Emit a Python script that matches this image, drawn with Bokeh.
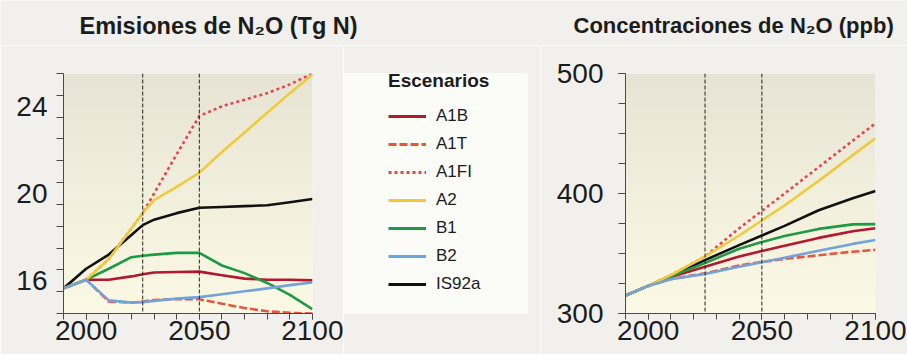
import numpy as np
from bokeh.plotting import figure
from bokeh.layouts import row, column
from bokeh.models import (FixedTicker, Span, Legend, LegendItem, Range1d, LinearAxis,
                          Label)
from bokeh.embed import file_html
from bokeh.resources import INLINE

# ---------------- data ----------------
scenarios = ["A1B", "A1T", "A1FI", "A2", "B1", "B2", "IS92a"]

em_years = [1990, 2000, 2010, 2020, 2025, 2030, 2040, 2050, 2060, 2070, 2080, 2090, 2100]
em_A1B   = [16.15, 16.55, 16.55, 16.70, 16.80, 16.88, 16.90, 16.92, 16.75, 16.60, 16.55, 16.55, 16.52]
em_A1T   = [16.15, 16.55, 15.55, 15.50, 15.55, 15.62, 15.66, 15.65, 15.45, 15.25, 15.10, 15.03, 15.00]
em_A1FI  = [16.15, 16.55, 17.50, 18.90, 19.60, 20.50, 22.30, 24.05, 24.50, 24.80, 25.10, 25.50, 26.00]
em_A2    = [16.15, 16.55, 17.50, 18.90, 19.60, 20.20, 20.80, 21.45, 22.40, 23.30, 24.20, 25.10, 25.95]
em_B1    = [16.15, 16.55, 17.05, 17.58, 17.65, 17.70, 17.78, 17.78, 17.20, 16.85, 16.40, 15.85, 15.20]
em_B2    = [16.15, 16.55, 15.60, 15.50, 15.52, 15.58, 15.68, 15.75, 15.88, 16.02, 16.15, 16.30, 16.42]
em_IS92a = [16.15, 17.05, 17.70, 18.60, 19.05, 19.30, 19.60, 19.85, 19.88, 19.92, 19.96, 20.10, 20.25]

conc_years = [1990, 2000, 2010, 2025, 2040, 2050, 2060, 2075, 2090, 2100]
conc_A1B   = [315, 323, 330.5, 339.0, 347.5, 352.0, 356.5, 363.0, 368.5, 371.0]
conc_A1T   = [315, 323, 328.7, 333.5, 340.0, 343.0, 345.5, 348.5, 351.5, 353.0]
conc_A1FI  = [315, 323, 332.0, 347.5, 371.0, 385.5, 400.0, 422.0, 444.0, 458.5]
conc_A2    = [315, 323, 332.0, 347.5, 365.0, 377.5, 390.0, 410.5, 432.0, 446.0]
conc_B1    = [315, 323, 331.0, 342.0, 354.0, 359.5, 364.5, 370.5, 374.3, 374.5]
conc_B2    = [315, 323, 328.5, 333.0, 339.0, 342.7, 346.5, 352.3, 358.0, 361.3]
conc_IS92a = [315, 323, 331.5, 344.5, 357.0, 365.0, 373.0, 386.0, 396.0, 402.0]

period_marks = [2025, 2050]
x_label_years = [2000, 2050, 2100]
x_minor_years = list(range(1990, 2101, 10))
em_label_ticks = [16, 20, 24]
em_minor_ticks = list(range(15, 27))
conc_label_ticks = [300, 400, 500]
conc_minor_ticks = list(range(300, 501, 25))

titles = ["Emisiones de N\u2082O (Tg N)", "Concentraciones de N\u2082O (ppb)"]

em_series = {"A1B": em_A1B, "A1T": em_A1T, "A1FI": em_A1FI, "A2": em_A2,
             "B1": em_B1, "B2": em_B2, "IS92a": em_IS92a}
conc_series = {"A1B": conc_A1B, "A1T": conc_A1T, "A1FI": conc_A1FI, "A2": conc_A2,
               "B1": conc_B1, "B2": conc_B2, "IS92a": conc_IS92a}

# ---------------- styles ----------------
PAGE = "#f1f0ec"
FONT = "Liberation Sans"
TXT = "#1c1c1c"
AX = "#4a4a4a"
colors = {"A1B": "#b3192e", "A1T": "#e8553c", "A1FI": "#e4474f", "A2": "#efcb3c",
          "B1": "#1f9a44", "B2": "#72a3d9", "IS92a": "#111111"}
dashes = {"A1B": "solid", "A1T": "8 3", "A1FI": "3 3", "A2": "solid",
          "B1": "solid", "B2": "solid", "IS92a": "solid"}
draw_order = ["IS92a", "A1B", "A1T", "A1FI", "B1", "A2", "B2"]

W, H = 907, 354
STRIP_H = 45


def add_gradient(p, xr, yr):
    n = 240
    t = np.linspace(0.0, 1.0, n)[:, None]
    bottom = np.array([252, 250, 229], dtype=float)
    top = np.array([231, 228, 213], dtype=float)
    cols = bottom + (top - bottom) * t
    img = np.zeros((n, 1), dtype=np.uint32)
    view = img.view(dtype=np.uint8).reshape((n, 1, 4))
    view[:, 0, 0:3] = cols.astype(np.uint8)
    view[:, 0, 3] = 255
    p.image_rgba(image=[img], x=xr[0], y=yr[0], dw=xr[1] - xr[0], dh=yr[1] - yr[0],
                 level="image")


def style_axis(ax):
    ax.axis_line_color = AX
    ax.major_tick_line_color = AX
    ax.minor_tick_line_color = AX
    ax.major_tick_in = 0
    ax.minor_tick_in = 0
    ax.major_label_text_font = FONT
    ax.major_label_text_font_size = "28px"
    ax.major_label_text_color = TXT


def make_panel(years, series, yr, width, bl, br, bt, bb):
    xr = (1990, 2100)
    p = figure(width=width, height=H - STRIP_H, x_range=Range1d(*xr), y_range=Range1d(*yr),
               toolbar_location=None, output_backend="svg",
               min_border_left=bl, min_border_right=br, min_border_top=bt,
               min_border_bottom=bb, border_fill_color=PAGE,
               background_fill_color="#f4f2e4", outline_line_color=None)
    add_gradient(p, xr, yr)
    for yv in period_marks:
        p.add_layout(Span(location=yv, dimension="height", line_color="#222222",
                          line_width=1, line_dash="4 2"))
    for s in draw_order:
        p.line(years, series[s], line_color=colors[s], line_width=2.6,
               line_dash=dashes[s], line_join="round")
    p.grid.visible = False
    style_axis(p.xaxis[0])
    style_axis(p.yaxis[0])
    p.xaxis.ticker = FixedTicker(ticks=x_label_years, minor_ticks=x_minor_years)
    p.xaxis.major_tick_out = 6
    p.xaxis.minor_tick_out = 6
    p.xaxis.major_label_standoff = 1
    p.yaxis.major_tick_out = 7
    p.yaxis.minor_tick_out = 7
    return p


# ---------------- heading strip (pixel-scaled, holds the two panel titles) ----------------
strip = figure(width=W, height=STRIP_H, x_range=Range1d(0, W), y_range=Range1d(0, STRIP_H),
               x_axis_location=None, y_axis_location=None, toolbar_location=None,
               output_backend="svg", min_border=0, border_fill_color=PAGE,
               background_fill_color=PAGE, outline_line_color=None)
strip.grid.visible = False
title_left_px = [79, 573]     # left edge of each heading
title_base_px = [25, 25]      # baseline, pixels from the top
title_sizes = ["23.5px", "22px"]
for txt, tx, ty, fs in zip(titles, title_left_px, title_base_px, title_sizes):
    strip.add_layout(Label(x=tx, y=STRIP_H - ty, text=txt, text_font=FONT,
                           text_font_size=fs, text_font_style="bold",
                           text_color=TXT, text_align="left",
                           text_baseline="alphabetic"))

# ---------------- left panel: emissions ----------------
left = make_panel(em_years, em_series, (15, 26), 343, 63, 31, 73 - STRIP_H, 41)
# tick marks on the main axis, labels on a second (line-less) axis so that each
# label sits just above its tick, as in the original
left.yaxis[0].ticker = FixedTicker(ticks=[], minor_ticks=em_minor_ticks)
left.yaxis[0].major_label_standoff = 0
em_label_pos = [v + 0.5 for v in em_label_ticks]
lab_axis = LinearAxis(ticker=FixedTicker(ticks=em_label_pos, minor_ticks=[]),
                      major_label_overrides={pos: str(v) for pos, v in zip(em_label_pos, em_label_ticks)},
                      axis_line_color=None, major_tick_line_color=None,
                      minor_tick_line_color=None, major_tick_out=0, major_tick_in=0,
                      minor_tick_out=0, minor_tick_in=0, major_label_standoff=9,
                      major_label_text_font=FONT, major_label_text_font_size="28px",
                      major_label_text_color=TXT)
left.add_layout(lab_axis, "left")

# ---------------- right panel: concentrations ----------------
right = make_panel(conc_years, conc_series, (300, 500), 367, 85, 32, 72 - STRIP_H, 41)
right.yaxis.ticker = FixedTicker(ticks=conc_label_ticks, minor_ticks=conc_minor_ticks)
right.yaxis.major_label_standoff = 15

# ---------------- legend panel ----------------
lf = figure(width=197, height=H - STRIP_H, x_range=Range1d(0, 1), y_range=Range1d(0, 1),
            x_axis_location=None, y_axis_location=None, toolbar_location=None,
            output_backend="svg", min_border_left=0, min_border_right=13,
            min_border_top=59 - STRIP_H, min_border_bottom=39,
            background_fill_color="#fbfbf8", border_fill_color=PAGE,
            outline_line_color=None)
lf.grid.visible = False
items = []
for s in scenarios:
    # legend proxies only: no visible data
    r = lf.line(x=[np.nan, np.nan], y=[np.nan, np.nan], line_color=colors[s],
                line_width=3, line_dash=dashes[s])
    items.append(LegendItem(label=s, renderers=[r]))
legend = Legend(items=items, location=(45, 19), title="Escenarios",
                padding=8, margin=0, spacing=8, label_height=20, glyph_height=20,
                glyph_width=38, label_standoff=10, label_width=70,
                label_text_font=FONT,
                label_text_font_size="17px", label_text_color=TXT,
                title_text_font=FONT, title_text_font_size="19px",
                title_text_font_style="bold", title_text_color=TXT, title_standoff=14,
                border_line_color=None, background_fill_alpha=0)
lf.add_layout(legend)

layout = column(strip, row(left, lf, right))
open("out.html", "w").write(file_html(layout, INLINE))
